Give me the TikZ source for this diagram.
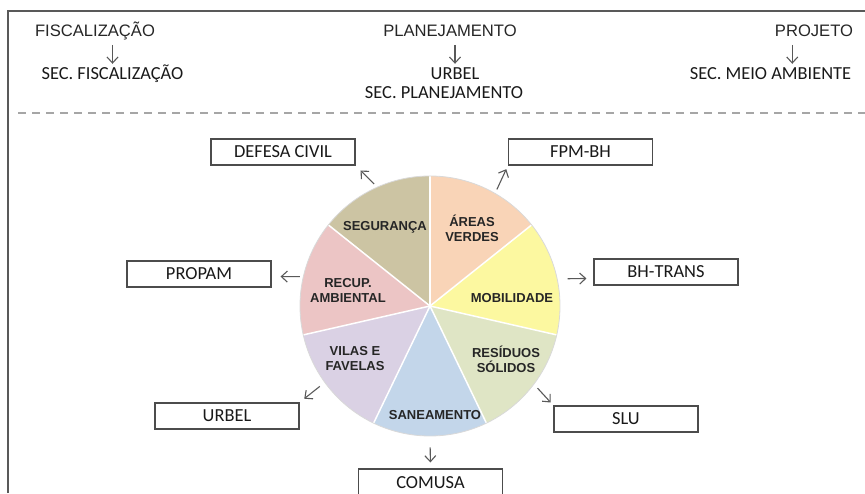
\documentclass[tikz,border=0pt]{standalone}
\usepackage{fontspec}
\setmainfont{Liberation Sans}
\newfontfamily\boxfont{Carlito}
\usetikzlibrary{arrows.meta,calc}
\definecolor{segur}{HTML}{CCC4A3}
\definecolor{recup}{HTML}{ECC5C5}
\definecolor{vilas}{HTML}{DAD1E4}
\definecolor{sanea}{HTML}{C3D6EA}
\definecolor{resid}{HTML}{DFE5C5}
\definecolor{mobil}{HTML}{FCF8A0}
\definecolor{areas}{HTML}{F9D4B7}
\tikzset{
    frame/.style={draw=black!65, line width=1.2pt},
    sep/.style={draw=black!35, line width=2pt, dash pattern=on 8pt off 6pt},
    head/.style={anchor=base, inner sep=0pt, text depth=4pt, text=black!85,
        font=\fontsize{16.6}{19}\selectfont},
    sub/.style={anchor=base, inner sep=0pt, text height=12.5pt, text=black!90,
        font=\boxfont\fontsize{18.4}{20}\selectfont},
    organ/.style={draw=black!70, line width=1.1pt, fill=white, minimum width=144pt,
        minimum height=26pt, inner sep=0pt, text height=12pt, text depth=0pt,
        text=black!90, font=\boxfont\fontsize{18.4}{20}\selectfont},
    slicetext/.style={align=center, text=black!85, font=\bfseries\fontsize{13}{15}\selectfont},
    link/.style={draw=black!65, line width=1.1pt, -{Straight Barb[length=6pt,width=11pt]},
        shorten <=4pt, shorten >=4pt}
}
\begin{document}
\begin{tikzpicture}[x=1pt,y=1pt]
    \useasboundingbox (0,0) rectangle (865,493);
    \draw[frame] (8,0) -- (8,482) -- (865,482);
    \draw[sep] (18,380) -- (865,380);

    % who does what
    \node[head] (fisc) at (95,456.3) {FISCALIZAÇÃO};
    \node[head] (plan) at (450,456.3) {PLANEJAMENTO};
    \node[head] (proj) at (814,456.3) {PROJETO};
    \node[sub] (sfisc) at (112.5,413) {SEC. FISCALIZAÇÃO};
    \node[sub] (surbel) at (455,413) {URBEL};
    \node[sub] (splan) at (444,394) {SEC. PLANEJAMENTO};
    \node[sub] (smeio) at (770.5,413) {SEC. MEIO AMBIENTE};
    \draw[link, shorten >=3.5pt] (sfisc.north |- fisc.south) -- (sfisc.north);
    \draw[link, shorten >=3.5pt] (surbel.north |- plan.south) -- (surbel.north);
    \path ($(proj.south)!.5!(smeio.north)$) coordinate (pj);
    \draw[link, shorten >=3.5pt] (pj |- proj.south) -- (pj |- smeio.north);

    % pie
    \coordinate (pc) at (430,187);
    \foreach \col [count=\i from 0] in {segur,recup,vilas,sanea,resid,mobil,areas}
        \fill[\col] (pc) -- ++({90+\i*360/7}:130pt)
            arc[start angle={90+\i*360/7}, delta angle={360/7}, radius=130pt] -- cycle;
    \foreach \i in {0,...,6}
        \draw[white, line width=1.5pt] (pc) -- ++({90+\i*360/7}:130pt);
    \node[circle, minimum size=260pt, inner sep=0pt, draw=black!15, line width=0.8pt] (pie) at (pc) {};

    \node[slicetext] (lsegur) at (385,266) {SEGURANÇA};
    \node[slicetext] (lareas) at (472,264.5) {ÁREAS\\VERDES};
    \node[slicetext] (lrecup) at (348,202.5) {RECUP.\\AMBIENTAL};
    \node[slicetext] (lmobil) at (512,195) {MOBILIDADE};
    \node[slicetext] (lvilas) at (355,134) {VILAS E\\FAVELAS};
    \node[slicetext] (lresid) at (506,134) {RESÍDUOS\\SÓLIDOS};
    \node[slicetext] (lsanea) at (435,78) {SANEAMENTO};

    % organs
    \node[organ] (defesa) at (283,341) {DEFESA CIVIL};
    \node[organ] (fpm) at (580.5,341) {FPM-BH};
    \node[organ] (bhtrans) at (666,221) {BH-TRANS};
    \node[organ] (slu) at (626,74) {SLU};
    \node[organ] (propam) at (199,219) {PROPAM};
    \node[organ] (urbel) at (227,77) {URBEL};
    \node[organ] (comusa) at (430.5,11) {COMUSA};

    \draw[link, shorten >=7pt] (pie.114) -- (defesa.south east);
    \draw[link] (pie.60) -- (fpm.south west);
    \draw[link, shorten <=10pt, shorten >=7pt] (pie.12) -- (bhtrans.185);
    \draw[link, shorten <=5pt] (pie.-37) -- (slu.north west);
    \draw[link, shorten <=3pt, shorten >=9pt] (pie.167) -- (propam.-2);
    \draw[link, shorten <=6pt, shorten >=6pt] (pie.216) -- (urbel.north east);
    \draw[link, shorten <=11pt, shorten >=6pt] (pie.south) -- (comusa.north);
\end{tikzpicture}
\end{document}
